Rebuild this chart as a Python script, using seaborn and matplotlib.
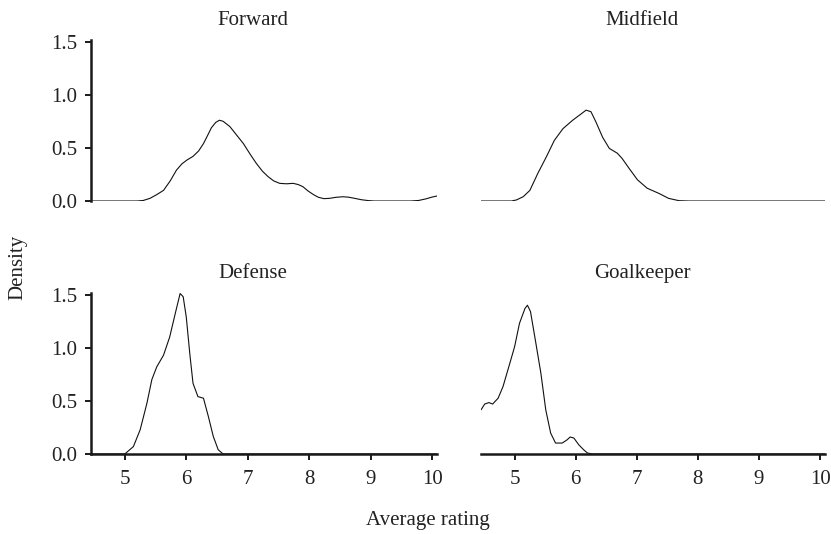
import numpy as np
import pandas as pd
import seaborn as sns
import matplotlib
matplotlib.use("Agg")
import matplotlib.pyplot as plt

# Density curves of average player rating, by position
positions = ["Forward", "Midfield", "Defense", "Goalkeeper"]

forward_x = [4.45, 5.20, 5.30, 5.41, 5.52, 5.63, 5.74, 5.84, 5.93, 6.01, 6.11, 6.20,
             6.28, 6.35, 6.41, 6.48, 6.54, 6.60, 6.71, 6.82, 6.93, 7.04, 7.14, 7.24, 7.33,
             7.42, 7.52, 7.63, 7.74, 7.82, 7.90, 7.98, 8.07, 8.15, 8.24, 8.33, 8.44,
             8.55, 8.64, 8.74, 8.85, 8.96, 9.06, 9.65, 9.78, 9.90, 10.00, 10.08]
forward_y = [0.0, 0.0, 0.005, 0.025, 0.06, 0.10, 0.19, 0.29, 0.35, 0.385, 0.42, 0.47,
             0.54, 0.62, 0.69, 0.74, 0.76, 0.75, 0.70, 0.62, 0.54, 0.44, 0.354, 0.28, 0.23,
             0.19, 0.166, 0.162, 0.166, 0.155, 0.134, 0.095, 0.06, 0.035, 0.022, 0.025, 0.035,
             0.04, 0.036, 0.025, 0.012, 0.004, 0.0, 0.0, 0.005, 0.02, 0.037, 0.047]

midfield_x = [4.45, 4.95, 5.03, 5.14, 5.25, 5.38, 5.52, 5.65, 5.79, 5.95, 6.09, 6.17,
              6.25, 6.33, 6.44, 6.55, 6.68, 6.76, 6.87, 7.01, 7.17, 7.36, 7.52, 7.69,
              7.85, 10.08]
midfield_y = [0.0, 0.0, 0.01, 0.04, 0.10, 0.26, 0.416, 0.57, 0.68, 0.76, 0.82, 0.855,
              0.84, 0.745, 0.60, 0.495, 0.45, 0.40, 0.31, 0.20, 0.12, 0.072, 0.025, 0.003,
              0.0, 0.0]

defense_x = [4.45, 5.00, 5.14, 5.25, 5.36, 5.44, 5.52, 5.63, 5.73, 5.82, 5.90, 5.95,
             6.00, 6.06, 6.11, 6.19, 6.28, 6.36, 6.44, 6.52, 6.60, 10.08]
defense_y = [0.0, 0.0, 0.07, 0.228, 0.478, 0.70, 0.82, 0.93, 1.10, 1.32, 1.51, 1.48,
             1.29, 0.93, 0.665, 0.54, 0.525, 0.352, 0.165, 0.04, 0.0, 0.0]

goalkeeper_x = [4.45, 4.51, 4.58, 4.64, 4.73, 4.81, 4.92, 5.00, 5.08, 5.17, 5.21, 5.26,
                5.34, 5.43, 5.51, 5.59, 5.67, 5.78, 5.86, 5.91, 5.97, 6.05, 6.13, 6.19,
                6.27, 10.08]
goalkeeper_y = [0.415, 0.47, 0.484, 0.47, 0.525, 0.634, 0.85, 1.01, 1.23, 1.37, 1.40, 1.34,
                1.07, 0.76, 0.415, 0.197, 0.103, 0.103, 0.134, 0.16, 0.15, 0.087, 0.04, 0.01,
                0.0, 0.0]

x_ticks = [5, 6, 7, 8, 9, 10]
y_ticks = [0.0, 0.5, 1.0, 1.5]

curves = {
    "Forward": (forward_x, forward_y),
    "Midfield": (midfield_x, midfield_y),
    "Defense": (defense_x, defense_y),
    "Goalkeeper": (goalkeeper_x, goalkeeper_y),
}
df = pd.concat(
    [pd.DataFrame({"position": p, "rating": curves[p][0], "density": curves[p][1]})
     for p in positions],
    ignore_index=True,
)

FS = 15
sns.set_theme(style="ticks")
plt.rcParams["font.family"] = ["Liberation Serif", "DejaVu Serif"]
plt.rcParams["font.size"] = FS
plt.rcParams["axes.linewidth"] = 1.8
plt.rcParams["xtick.major.width"] = 1.4
plt.rcParams["ytick.major.width"] = 1.4
plt.rcParams["xtick.major.size"] = 4
plt.rcParams["ytick.major.size"] = 4
plt.rcParams["xtick.labelsize"] = FS
plt.rcParams["ytick.labelsize"] = FS
plt.rcParams["axes.edgecolor"] = "#1a1a1a"

g = sns.FacetGrid(df, col="position", col_order=positions, col_wrap=2,
                  sharex=True, sharey=True, despine=True)
g.map_dataframe(sns.lineplot, x="rating", y="density", color="#111111",
                linewidth=0.8, sort=False)
g.set_titles("{col_name}", size=FS, x=0.468, pad=11, color="#222222")
g.set_axis_labels("", "")
g.figure.set_size_inches(8.31, 5.34)
g.figure.set_dpi(100)

W, H = 831, 534
pos_px = {
    "Forward": (91, 437, 40, 201),
    "Midfield": (481, 825, 40, 201),
    "Defense": (91, 437, 293, 454),
    "Goalkeeper": (481, 825, 293, 454),
}
for ax, name in zip(g.axes.flat, positions):
    l, r, t, b = pos_px[name]
    ax.set_position([l / W, 1 - b / H, (r - l) / W, (b - t) / H])
    ax.set_xlim(4.45, 10.08)
    ax.set_ylim(0, 1.515)
    ax.set_xticks(x_ticks)
    ax.set_yticks(y_ticks)
    ax.set_yticklabels([f"{v:.1f}" for v in y_ticks])
    ax.set_xticklabels([str(v) for v in x_ticks])
    if name in ("Forward", "Midfield"):
        ax.spines["bottom"].set_visible(False)
        ax.tick_params(axis="x", bottom=False, labelbottom=False)
    else:
        ax.tick_params(axis="x", labelbottom=True, pad=7.5)
    if name in ("Midfield", "Goalkeeper"):
        ax.spines["left"].set_visible(False)
        ax.tick_params(axis="y", left=False, labelleft=False)
    else:
        ax.tick_params(axis="y", labelleft=True, pad=6)
    ax.tick_params(colors="#1a1a1a", labelcolor="#222222")

g.figure.text(428 / W, 1 - 521 / H, "Average rating", ha="center", va="center",
              fontsize=FS, color="#222222")
g.figure.text(18 / W, 1 - 267 / H, "Density", ha="center", va="center",
              rotation=90, fontsize=FS, color="#222222")

g.figure.savefig("out.png", dpi=100)
